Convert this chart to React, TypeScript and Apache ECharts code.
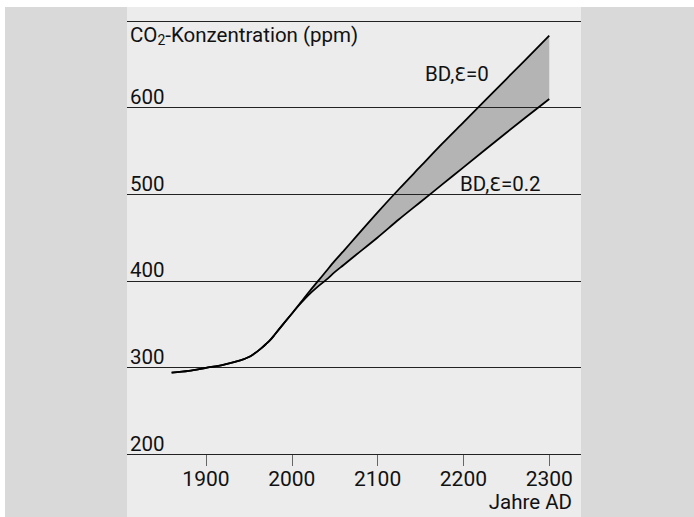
import React, { useEffect, useRef } from "react";
import * as echarts from "echarts";

// Historical (common) part of both curves
const histYears = [1860, 1880, 1900, 1920, 1940, 1950, 1955, 1960, 1965, 1970, 1975, 1980, 1990];
const histCo2 = [294, 296, 299.5, 303, 308, 312, 315, 318.5, 322.5, 327, 331.8, 337.7, 350];

// Scenario part
const futureYears = [2000, 2010, 2020, 2030, 2040, 2050, 2060, 2075, 2100, 2125, 2150, 2175, 2200, 2250, 2300];
const co2Eps0 = [362, 374.5, 387, 399, 411, 423, 434, 451, 479, 506, 532, 558, 583, 633, 683];
const co2Eps02 = [362, 373.5, 384, 393, 401, 410, 418, 430, 450, 471, 491, 511, 531, 571, 610];

const xTickValues = [1900, 2000, 2100, 2200, 2300];

const FONT = "Roboto";

export default function App() {
  const ref = useRef<HTMLDivElement>(null);

  useEffect(() => {
    const chart = echarts.init(ref.current as HTMLDivElement, null, { renderer: "svg" });

    const hist = histYears.map((y, i) => [y, histCo2[i]]);
    const upper = hist.concat(futureYears.map((y, i) => [y, co2Eps0[i]]));
    const lower = hist.concat(futureYears.map((y, i) => [y, co2Eps02[i]]));
    const bandUpper = futureYears.map((y, i) => [y, co2Eps0[i]]);
    const bandLower = futureYears.map((y, i) => [y, co2Eps02[i]]);

    const epsRich = { eps: { fontSize: 19, fontFamily: "DejaVu Sans", fill: "#111" } };

    const option: any = {
      animation: false,
      backgroundColor: "#ffffff",
      textStyle: { fontFamily: FONT },
      grid: { left: 127, right: 113, top: 21, bottom: 63, containLabel: false },
      xAxis: {
        type: "value",
        min: 1808,
        max: 2337,
        axisLine: { show: false },
        splitLine: { show: false },
        axisTick: {
          show: true,
          length: 12,
          lineStyle: { color: "#666", width: 1 },
          customValues: xTickValues,
        },
        axisLabel: {
          customValues: xTickValues,
          margin: 14,
          fontSize: 21,
          lineHeight: 21,
          color: "#111",
          fontFamily: FONT,
          formatter: (v: number) => String(v),
        },
      },
      yAxis: {
        type: "value",
        min: 200,
        max: 700,
        interval: 100,
        z: 3,
        axisLine: { show: false },
        axisTick: { show: false },
        splitLine: { show: true, lineStyle: { color: "#222", width: 1 } },
        axisLabel: {
          inside: true,
          margin: 3,
          verticalAlign: "bottom",
          fontSize: 20.5,
          color: "#111",
          fontFamily: FONT,
          formatter: (v: number) => (v === 700 ? "" : String(v)),
        },
      },
      graphic: [
        { type: "rect", z: -100, silent: true, shape: { x: 5, y: 7, width: 689, height: 510 }, style: { fill: "#d9d9d9" } },
        { type: "rect", z: -99, silent: true, shape: { x: 127, y: 7, width: 454, height: 510 }, style: { fill: "#ececec" } },
        {
          type: "text",
          left: 130,
          top: 24,
          z: 10,
          style: {
            text: "CO{sub|2}-Konzentration (ppm)",
            fontSize: 20.5,
            fontFamily: FONT,
            fill: "#111",
            rich: { sub: { fontSize: 14, fontFamily: FONT, fill: "#111", padding: [10, 0, 0, 0] } },
          },
        },
        {
          type: "text",
          left: 425,
          top: 63,
          z: 10,
          style: { text: "BD,{eps|\u0190}=0", fontSize: 20.5, fontFamily: FONT, fill: "#111", rich: epsRich },
        },
        {
          type: "text",
          left: 460,
          top: 173,
          z: 10,
          style: { text: "BD,{eps|\u0190}=0.2", fontSize: 20.5, fontFamily: FONT, fill: "#111", rich: epsRich },
        },
        { type: "text", right: 122, top: 491, z: 10, style: { text: "Jahre AD", fontSize: 20.5, lineHeight: 20, fontFamily: FONT, fill: "#111" } },
      ],
      series: [
        {
          type: "custom",
          z: 1,
          silent: true,
          data: [0],
          renderItem: (_params: any, api: any) => {
            const pts = bandUpper
              .map((p) => api.coord(p))
              .concat(bandLower.slice().reverse().map((p) => api.coord(p)));
            return { type: "polygon", shape: { points: pts }, style: { fill: "#b4b4b4", stroke: "none" } };
          },
        },
        {
          type: "line",
          z: 5,
          data: upper,
          smooth: 0.3,
          showSymbol: false,
          lineStyle: { color: "#000", width: 1.8 },
        },
        {
          type: "line",
          z: 5,
          data: lower,
          smooth: 0.3,
          showSymbol: false,
          lineStyle: { color: "#000", width: 1.8 },
        },
      ],
    };

    chart.setOption(option);
    return () => chart.dispose();
  }, []);

  return <div ref={ref} style={{ position: "absolute", left: 0, top: 0, width: 694, height: 517 }} />;
}
